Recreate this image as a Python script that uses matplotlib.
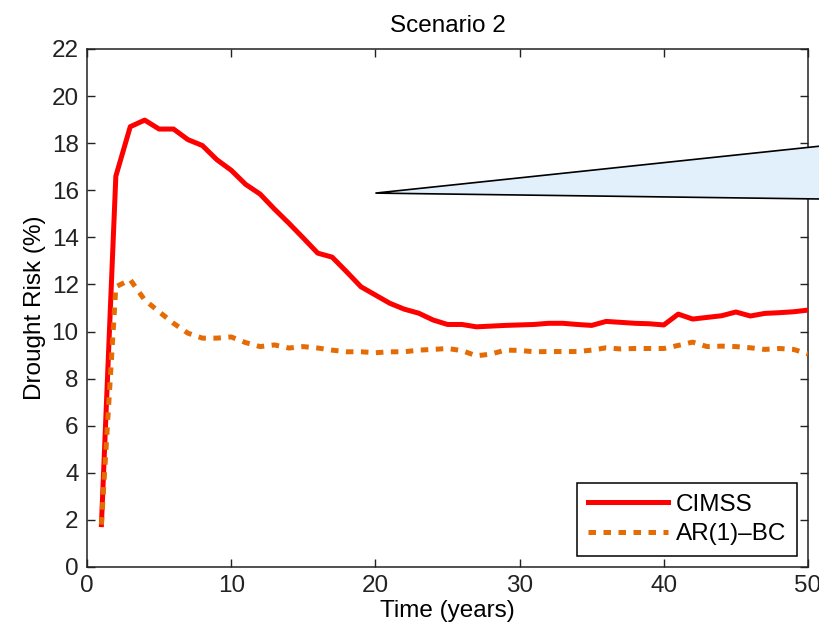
import matplotlib
matplotlib.use("Agg")
import matplotlib.pyplot as plt
from matplotlib.patches import Polygon

plt.rcParams['font.family'] = ['Liberation Sans', 'DejaVu Sans']

years = list(range(1, 51))

cimss = [1.8, 16.6, 18.7, 18.98, 18.6, 18.6, 18.15, 17.9, 17.3, 16.85,
         16.25, 15.84, 15.2, 14.6, 13.97, 13.33, 13.16, 12.54, 11.9, 11.55,
         11.2, 10.95, 10.78, 10.49, 10.3, 10.3, 10.2, 10.23, 10.26, 10.28,
         10.3, 10.35, 10.35, 10.3, 10.26, 10.43, 10.39, 10.35, 10.33, 10.28,
         10.74, 10.53, 10.6, 10.67, 10.83, 10.66, 10.77, 10.8, 10.84, 10.91]

ar1_bc = [1.8, 11.9, 12.2, 11.34, 10.84, 10.35, 9.93, 9.72, 9.72, 9.77,
          9.53, 9.36, 9.43, 9.3, 9.36, 9.3, 9.21, 9.14, 9.14, 9.1,
          9.14, 9.14, 9.21, 9.24, 9.28, 9.19, 8.97, 9.04, 9.21, 9.2,
          9.14, 9.15, 9.15, 9.15, 9.21, 9.31, 9.26, 9.28, 9.28, 9.28,
          9.41, 9.55, 9.36, 9.38, 9.36, 9.31, 9.24, 9.28, 9.24, 9.05]

# zoom callout wedge (data coordinates), extends past the right edge
wedge_x = [20, 52, 52]
wedge_y = [15.88, 17.95, 15.62]

x_ticks = [0, 10, 20, 30, 40, 50]
y_ticks = list(range(0, 23, 2))

fig = plt.figure(figsize=(8.2, 6.29), dpi=100)
ax = fig.add_axes([0.1061, 0.0986, 0.8793, 0.8235])

ax.plot(years, cimss, color='#FF0000', lw=3.6, label='CIMSS', zorder=3)
ax.plot(years, ar1_bc, color='#E56C05', lw=3.6, dashes=(1.5, 1.5),
        dash_capstyle='butt', label='AR(1)\u2013BC', zorder=3)

wedge = Polygon(list(zip(wedge_x, wedge_y)), closed=True,
                facecolor='#E2F0FC', edgecolor='black', lw=1.2,
                clip_on=False, zorder=4)
ax.add_patch(wedge)

ax.set_xlim(0, 50)
ax.set_ylim(0, 22)
ax.set_xticks(x_ticks)
ax.set_yticks(y_ticks)
ax.tick_params(direction='in', length=6, width=1, top=True, right=True,
               labelsize=17.5, pad=6, colors='#222222')
for s in ax.spines.values():
    s.set_linewidth(1.1)
    s.set_color('#222222')

ax.set_title('Scenario 2', fontsize=17.5, pad=12)
ax.set_xlabel('Time (years)', fontsize=17.5, labelpad=2)
ax.set_ylabel('Drought Risk (%)', fontsize=17.5, labelpad=4)

leg = ax.legend(loc='lower right', fontsize=17.5, handlelength=3.3,
                handletextpad=0.3, borderpad=0.45, labelspacing=0.3,
                fancybox=False, framealpha=1, edgecolor='black',
                borderaxespad=0.45)
leg.get_frame().set_linewidth(1.1)

fig.savefig('out.png', dpi=100)
